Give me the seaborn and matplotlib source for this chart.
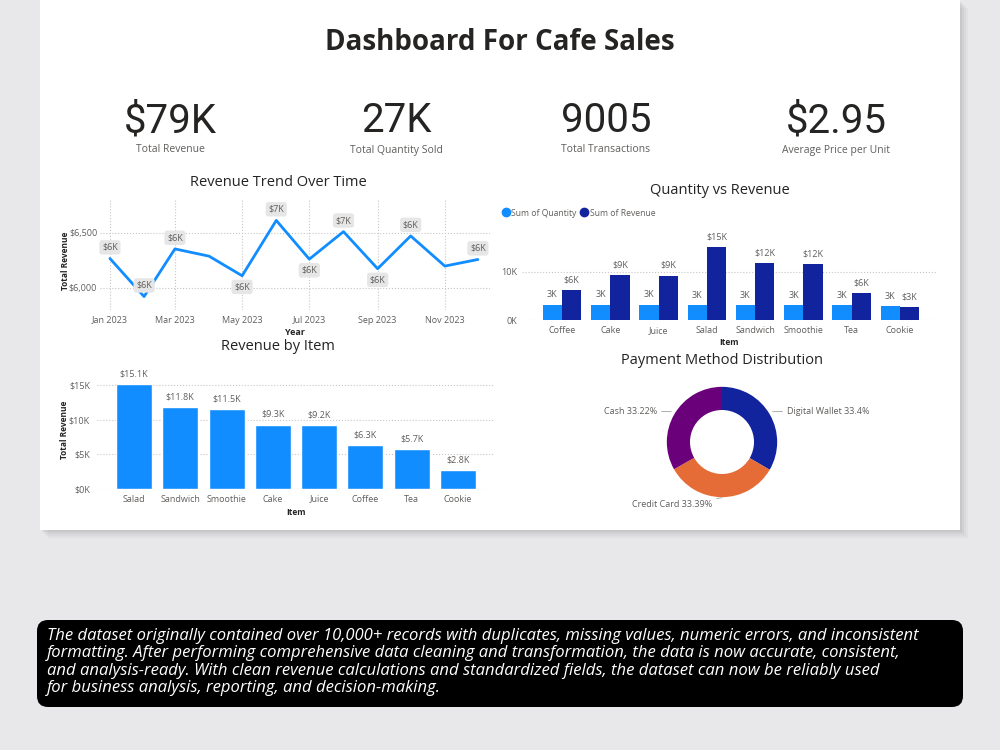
import numpy as np
import pandas as pd
import seaborn as sns
import matplotlib.pyplot as plt
import matplotlib.dates as mdates
from matplotlib.patches import Rectangle, FancyBboxPatch
from matplotlib.lines import Line2D

# KPI cards
kpi_values = ['$79K', '27K', '9005', '$2.95']
kpi_labels = ['Total Revenue', 'Total Quantity Sold', 'Total Transactions', 'Average Price per Unit']

# Revenue trend over time (monthly)
months = ['Jan 2023', 'Feb 2023', 'Mar 2023', 'Apr 2023', 'May 2023', 'Jun 2023',
          'Jul 2023', 'Aug 2023', 'Sep 2023', 'Oct 2023', 'Nov 2023', 'Dec 2023']
monthly_revenue = [6268, 5922, 6355, 6289, 6111, 6614, 6262, 6512, 6175, 6473, 6199, 6259]

# Quantity vs revenue
qty_items = ['Coffee', 'Cake', 'Juice', 'Salad', 'Sandwich', 'Smoothie', 'Tea', 'Cookie']
qty_sold = [3200, 3170, 3150, 3130, 3100, 3080, 3050, 2850]
qty_revenue = [6300, 9300, 9200, 15100, 11800, 11500, 5700, 2800]

# Revenue by item
rev_items = ['Salad', 'Sandwich', 'Smoothie', 'Cake', 'Juice', 'Coffee', 'Tea', 'Cookie']
rev_values = [15100, 11800, 11500, 9300, 9200, 6300, 5700, 2800]

# Payment methods
pay_methods = ['Digital Wallet', 'Credit Card', 'Cash']
pay_share = [33.4, 33.39, 33.22]

summary_lines = [
    'The dataset originally contained over 10,000+ records with duplicates, missing values, numeric errors, and inconsistent',
    'formatting. After performing comprehensive data cleaning and transformation, the data is now accurate, consistent,',
    'and analysis-ready. With clean revenue calculations and standardized fields, the dataset can now be reliably used',
    'for business analysis, reporting, and decision-making.',
]

sns.set_style('white')
plt.rcParams['font.family'] = ['Open Sans', 'DejaVu Sans']

BLUE = '#118DFF'
NAVY = '#12239E'
TXT = '#252423'
GRAY = '#605E5C'
GRID = '#C8C6C4'

fig = plt.figure(figsize=(10, 7.5), dpi=100)
fig.patch.set_facecolor('#E8E8EA')

# pixel-space background layer
bg = fig.add_axes([0, 0, 1, 1], zorder=-10)
bg.set_xlim(0, 1000)
bg.set_ylim(750, 0)
bg.axis('off')

for i, a in enumerate([0.05, 0.06, 0.08, 0.10]):
    off = 8 - 2 * i
    bg.add_patch(Rectangle((40 + off, off), 920, 530, fc='#707070', ec='none', alpha=a))
bg.add_patch(Rectangle((40, 0), 920, 530, fc='white', ec='none'))
bg.add_patch(FancyBboxPatch((37, 620), 926, 87, boxstyle='round,pad=0,rounding_size=11',
                            fc='black', ec='none'))
for i, line in enumerate(summary_lines):
    bg.text(47, 636 + 17.4 * i, line, color='white', fontsize=12, style='italic',
            va='center', ha='left')

bg.text(500, 42, 'Dashboard For Cafe Sales', fontsize=20, fontweight='bold', color=TXT,
        ha='center', va='center')

kpi_x = [170, 396, 606, 836]
for x, v, l in zip(kpi_x, kpi_values, kpi_labels):
    bg.text(x, 121, v, fontsize=29, color=TXT, ha='center', va='center', family='Roboto')
    bg.text(x, 150, l, fontsize=7.5, color=GRAY, ha='center', va='center')

titles = [('Revenue Trend Over Time', 278, 182), ('Quantity vs Revenue', 720, 191),
          ('Revenue by Item', 278, 347), ('Payment Method Distribution', 722, 360)]
for t, x, y in titles:
    bg.text(x, y, t, fontsize=10.5, color=TXT, ha='center', va='center')


def style_axes(ax):
    ax.set_facecolor('none')
    sns.despine(ax=ax, left=True, bottom=True)
    ax.tick_params(length=0, labelsize=6.5, labelcolor=GRAY)
    ax.grid(False)


# ---- Revenue trend ----
ax1 = fig.add_axes([0.10, 0.5867, 0.39, 0.1467])
trend = pd.DataFrame({'month': pd.to_datetime(months, format='%b %Y'), 'revenue': monthly_revenue})
sns.lineplot(data=trend, x='month', y='revenue', ax=ax1, color=BLUE, linewidth=2)
style_axes(ax1)
ax1.set_ylim(5800, 6800)
ax1.set_xlim(trend['month'].iloc[0] - pd.Timedelta(days=9), trend['month'].iloc[-1] + pd.Timedelta(days=11))
ax1.set_yticks([6000, 6500])
ax1.set_yticklabels(['$6,000', '$6,500'])
ax1.xaxis.set_major_locator(mdates.MonthLocator(bymonth=[1, 3, 5, 7, 9, 11]))
ax1.xaxis.set_major_formatter(mdates.DateFormatter('%b %Y'))
ax1.grid(True, axis='both', linestyle=':', color=GRID, linewidth=0.8)
ax1.tick_params(axis='x', pad=4)
ax1.tick_params(axis='y', pad=2)
ax1.set_xlabel('Year', fontsize=6.5, fontweight='bold', color=TXT)
ax1.set_ylabel('Total Revenue', fontsize=6, fontweight='bold', color=TXT)
ax1.xaxis.set_label_coords(0.5, -0.16)
ax1.yaxis.set_label_coords(-0.077, 0.45)
label_side = [1, 1, 1, 0, -1, 1, -1, 1, -1, 1, 0, 1]
for d, v, s in zip(trend['month'], trend['revenue'], label_side):
    if s == 0:
        continue
    ax1.annotate(f'${v / 1000:.0f}K', (d, v), xytext=(0, 8 * s), textcoords='offset points',
                 ha='center', va='center', fontsize=6.5, color=GRAY,
                 bbox=dict(boxstyle='round,pad=0.3', fc='#E6E6E6', ec='none'))

# ---- Quantity vs Revenue ----
ax2 = fig.add_axes([0.522, 0.5729, 0.415, 0.1168])
qv = pd.DataFrame({
    'Item': qty_items * 2,
    'value': qty_sold + qty_revenue,
    'measure': ['Sum of Quantity'] * len(qty_items) + ['Sum of Revenue'] * len(qty_items),
})
sns.barplot(data=qv, x='Item', y='value', hue='measure', palette=[BLUE, NAVY],
            width=0.8, ax=ax2, legend=False, saturation=1, linewidth=0)
style_axes(ax2)
ax2.set_ylim(0, 18000)
ax2.set_xlim(-0.83, 7.77)
ax2.set_yticks([0, 10000])
ax2.set_yticklabels(['0K', '10K'])
ax2.grid(True, axis='y', linestyle=':', color=GRID, linewidth=0.8)
ax2.tick_params(axis='x', pad=4)
ax2.set_ylabel('')
ax2.set_xlabel('Item', fontsize=6, fontweight='bold', color=TXT)
ax2.xaxis.set_label_coords(0.5, -0.2)
ax2.bar_label(ax2.containers[0], labels=[f'{v / 1000:.0f}K' for v in qty_sold],
              padding=4, fontsize=6.5, color=GRAY)
ax2.bar_label(ax2.containers[1], labels=[f'${v / 1000:.0f}K' for v in qty_revenue],
              padding=4, fontsize=6.5, color=GRAY)
handles = [Line2D([], [], marker='o', linestyle='', color=c, markersize=6) for c in [BLUE, NAVY]]
fig.legend(handles, ['Sum of Quantity', 'Sum of Revenue'], loc='center left',
           bbox_to_anchor=(0.503, 1 - 213 / 750), frameon=False, ncol=2, fontsize=6.2,
           handletextpad=0.35, columnspacing=0.6, handlelength=0.6, labelcolor=GRAY,
           borderpad=0, borderaxespad=0)

# ---- Revenue by Item ----
ax3 = fig.add_axes([0.097, 0.348, 0.398, 0.1572])
sns.barplot(x=rev_items, y=rev_values, color=BLUE, width=0.78, ax=ax3, saturation=1)
style_axes(ax3)
ax3.set_ylim(0, 17000)
ax3.set_xlim(-0.8, 7.8)
ax3.set_yticks([0, 5000, 10000, 15000])
ax3.set_yticklabels(['$0K', '$5K', '$10K', '$15K'])
ax3.grid(True, axis='y', linestyle=':', color=GRID, linewidth=0.8)
ax3.tick_params(axis='x', pad=4)
ax3.tick_params(axis='y', pad=5)
ax3.set_xlabel('Item', fontsize=6, fontweight='bold', color=TXT)
ax3.set_ylabel('Total Revenue', fontsize=6, fontweight='bold', color=TXT)
ax3.xaxis.set_label_coords(0.5, -0.16)
ax3.yaxis.set_label_coords(-0.07, 0.5)
ax3.bar_label(ax3.containers[0], labels=[f'${v / 1000:.1f}K' for v in rev_values],
              padding=4, fontsize=6.5, color=GRAY)

# ---- Payment method donut ----
ax4 = fig.add_axes([0.642, 1 - 522 / 750, 0.16, 160 / 750])
ax4.pie(pay_share, colors=[NAVY, '#E66C37', '#6B007B'], startangle=90, counterclock=False,
        wedgeprops=dict(width=0.42, linewidth=0))
ax4.set_xlim(-1.45, 1.45)
ax4.set_ylim(-1.45, 1.45)
ax4.set_aspect('equal')
line_kw = dict(arrowstyle='-', color='#A0A0A0', lw=0.6, shrinkA=1, shrinkB=0)
ax4.annotate(f'{pay_methods[0]} {pay_share[0]}%', xy=(0.92, 0.55), xytext=(1.18, 0.56),
             ha='left', va='center', fontsize=6.5, color=GRAY, arrowprops=line_kw)
ax4.annotate(f'{pay_methods[1]} {pay_share[1]}%', xy=(0.0, -1.01), xytext=(-0.18, -1.14),
             ha='right', va='center', fontsize=6.5, color=GRAY, arrowprops=line_kw)
ax4.annotate(f'{pay_methods[2]} {pay_share[2]}%', xy=(-0.92, 0.55), xytext=(-1.18, 0.56),
             ha='right', va='center', fontsize=6.5, color=GRAY, arrowprops=line_kw)

fig.savefig('out.png', dpi=100, facecolor=fig.get_facecolor())
